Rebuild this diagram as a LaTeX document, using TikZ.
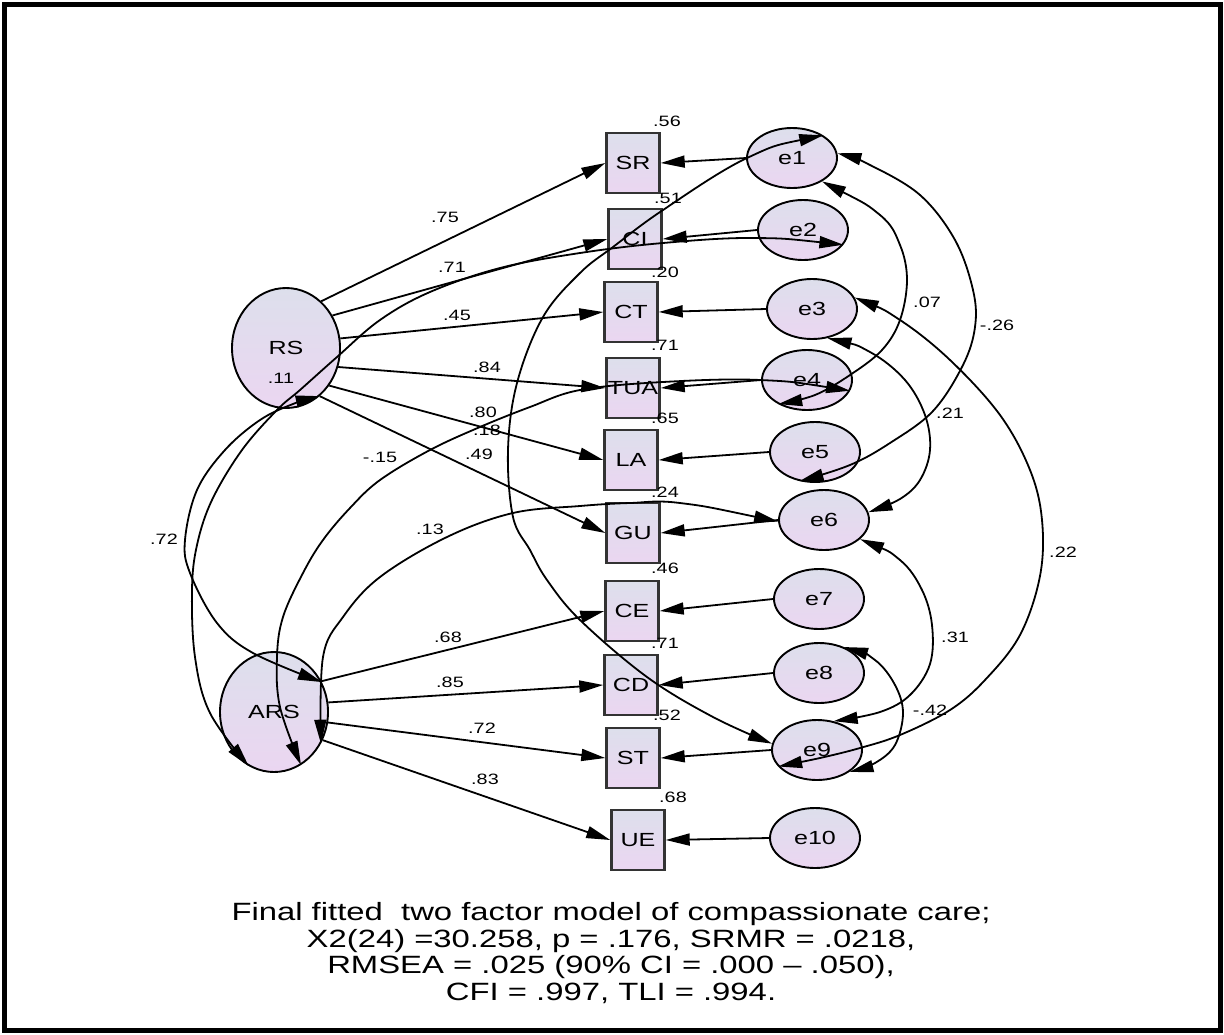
\documentclass[tikz,border=0pt]{standalone}
\usepackage{fontspec}
\setmainfont{Liberation Sans}
\newfontfamily\nfont[FakeStretch=1.32]{Liberation Sans}
\newfontfamily\cfont[FakeStretch=1.313]{Liberation Sans}
\usetikzlibrary{arrows.meta,shapes.geometric}
\definecolor{nodetop}{RGB}{221,223,236}
\definecolor{nodebot}{RGB}{235,214,241}
\begin{document}
\begin{tikzpicture}[x=1pt,y=-1pt,
  lat/.style={ellipse, draw=black, line width=1.9pt, minimum width=108pt, minimum height=120pt, inner sep=0pt, top color=nodetop, bottom color=nodebot, font=\nfont\fontsize{19}{19}\selectfont},
  err/.style={ellipse, draw=black, line width=1.9pt, minimum width=90pt, minimum height=60pt, inner sep=0pt, top color=nodetop, bottom color=nodebot, font=\nfont\fontsize{19}{19}\selectfont},
  obs/.style={rectangle, draw=black!80, line width=2.4pt, minimum width=53pt, minimum height=60pt, inner sep=0pt, top color=nodetop, bottom color=nodebot, font=\nfont\fontsize{19}{19}\selectfont},
  pth/.style={line width=1.8pt, -{Triangle[length=24pt,width=12pt]}},
  cov/.style={line width=1.8pt, {Triangle[length=24pt,width=12pt]}-{Triangle[length=24pt,width=12pt]}},
  lab/.style={font=\nfont\fontsize{15}{15}\selectfont, inner sep=0pt}]
\useasboundingbox (0,0) rectangle (1224,1034);
\fill[white] (0,0) rectangle (1224,1034);
\draw[line width=5.5pt] (4.5,4.5) rectangle (1220.5,1030.5);

% latent factors
\node[lat] (RS) at (286,348) {RS};
\node[lat] (ARS) at (274,712) {ARS};
% observed
\node[obs] (SR) at (633,163) {SR};
\node[obs] (CI) at (635,239) {CI};
\node[obs] (CT) at (631,312) {CT};
\node[obs] (TUA) at (633,388) {TUA};
\node[obs] (LA) at (631,460) {LA};
\node[obs] (GU) at (633,533) {GU};
\node[obs] (CE) at (632,611) {CE};
\node[obs] (CD) at (631,685) {CD};
\node[obs] (ST) at (633,758) {ST};
\node[obs] (UE) at (638,840) {UE};
% errors
\node[err] (e1) at (792,158) {e1};
\node[err] (e2) at (803,230) {e2};
\node[err] (e3) at (812,309) {e3};
\node[err] (e4) at (807,380) {e4};
\node[err] (e5) at (815,452) {e5};
\node[err] (e6) at (824,520) {e6};
\node[err] (e7) at (819,599) {e7};
\node[err] (e8) at (819,673) {e8};
\node[err] (e9) at (817,750) {e9};
\node[err] (e10) at (815,838) {e10};

% loadings
\draw[pth] (RS.53) -- (SR.west);
\draw[pth] (RS.35) -- (CI.west);
\draw[pth] (RS.10) -- (CT.west);
\draw[pth] (RS.-20) -- (TUA.west);
\draw[pth] (RS.-41) -- (LA.west);
\draw[pth] (RS.-55) -- (GU.west);
\draw[pth] (ARS.33) -- (CE.west);
\draw[pth] (ARS.10) -- (CD.west);
\draw[pth] (ARS.-11) -- (ST.west);
\draw[pth] (ARS.-30) -- (UE.west);
% error paths
\draw[pth] (e1.west) -- (SR.east);
\draw[pth] (e2.west) -- (CI.east);
\draw[pth] (e3.west) -- (CT.east);
\draw[pth] (e4.west) -- (TUA.east);
\draw[pth] (e5.west) -- (LA.east);
\draw[pth] (e6.west) -- (GU.east);
\draw[pth] (e7.west) -- (CE.east);
\draw[pth] (e8.west) -- (CD.east);
\draw[pth] (e9.west) -- (ST.east);
\draw[pth] (e10.west) -- (UE.east);

% covariances, left
\draw[cov] plot[smooth, tension=0.6] coordinates {(e1.36) (747,158) (663,210) (613,247) (580,273) (543,317) (517,383) (508,450) (513,517) (530,550) (547,580) (580,620) (647,677) (713,717) (e9.172)};
\draw[cov] plot[smooth, tension=0.6] coordinates {(e2.-20) (753,238) (663,243) (580,253) (500,268) (430,292) (380,320) (337,357) (300,390) (277,410) (242,450) (212,500) (197,545) (192,590) (195,657) (210,713) (ARS.245)};
\draw[cov] plot[smooth, tension=0.6] coordinates {(RS.-55) (293,404) (260,420) (225,450) (197,490) (185,540) (190,573) (217,623) (253,653) (ARS.32)};
\draw[cov] plot[smooth, tension=0.6] coordinates {(e4.-14) (760,380) (663,382) (580,390) (530,407) (480,427) (430,450) (380,480) (350,508) (323,540) (303,573) (283,617) (277,657) (280,707) (ARS.-63)};
\draw[cov] plot[smooth, tension=0.6] coordinates {(e6.182) (680,503) (630,503) (580,506) (513,513) (447,537) (380,577) (343,617) (323,657) (ARS.-34)};
% covariances, right
\draw[cov] plot[smooth, tension=0.6] coordinates {(e1.-38) (880,215) (900,245) (907,280) (900,320) (882,350) (850,375) (815,395) (e4.220)};
\draw[cov] plot[smooth, tension=0.6] coordinates {(e1.6) (870,165) (920,195) (955,240) (973,290) (975,327) (963,365) (933,411) (890,443) (850,465) (e5.242)};
\draw[cov] plot[smooth, tension=0.6] coordinates {(e3.-62) (870,352) (905,380) (925,415) (930,450) (920,480) (900,499) (e6.10)};
\draw[cov] plot[smooth, tension=0.6] coordinates {(e3.15) (900,320) (950,360) (1000,415) (1030,470) (1042,520) (1040,576) (1020,635) (985,680) (950,710) (900,735) (860,748) (820,758) (e9.203)};
\draw[cov] plot[smooth, tension=0.6] coordinates {(e6.-28) (900,560) (922,590) (932,625) (930,664) (910,695) (880,712) (e9.60)};
\draw[cov] plot[smooth, tension=0.6] coordinates {(e8.46) (875,660) (895,685) (903,713) (895,745) (875,763) (e9.-34)};

% labels: loadings
\node[lab] (l1) at (445,217) {.75};
\node[lab] (l2) at (452,267) {.71};
\node[lab] (l3) at (457,315) {.45};
\node[lab] (l4) at (487,367) {.84};
\node[lab] (l5) at (483,412) {.80};
\node[lab] (l6) at (479,454) {.49};
\node[lab] (l7) at (448,637) {.68};
\node[lab] (l8) at (450,682) {.85};
\node[lab] (l9) at (482,728) {.72};
\node[lab] (l10) at (485,779) {.83};
% R squared
\node[lab] (r1) at (667,121) {.56};
\node[lab] (r2) at (668,198) {.51};
\node[lab] (r3) at (665,272) {.20};
\node[lab] (r4) at (665,345) {.71};
\node[lab] (r5) at (665,418) {.65};
\node[lab] (r6) at (665,492) {.24};
\node[lab] (r7) at (665,568) {.46};
\node[lab] (r8) at (665,643) {.71};
\node[lab] (r9) at (667,715) {.52};
\node[lab] (r10) at (673,797) {.68};
% covariance labels
\node[lab] (c1) at (281,378) {.11};
\node[lab] (c2) at (164,539) {.72};
\node[lab] (c3) at (380,457) {-.15};
\node[lab] (c4) at (487,430) {.18};
\node[lab] (c5) at (430,529) {.13};
\node[lab] (c6) at (927,302) {.07};
\node[lab] (c7) at (997,325) {-.26};
\node[lab] (c8) at (950,413) {.21};
\node[lab] (c9) at (1063,552) {.22};
\node[lab] (c10) at (955,637) {.31};
\node[lab] (c11) at (930,710) {-.42};

% caption
\node[align=center, inner sep=0pt, font=\cfont\fontsize{25}{26.7}\selectfont] (cap) at (611,953)
 {Final fitted\ \ two factor model of compassionate care;\\
  X2(24) =30.258, p = .176, SRMR = .0218,\\
  RMSEA = .025 (90\% CI = .000 \textendash{} .050),\\
  CFI = .997, TLI = .994.};
\end{tikzpicture}
\end{document}
